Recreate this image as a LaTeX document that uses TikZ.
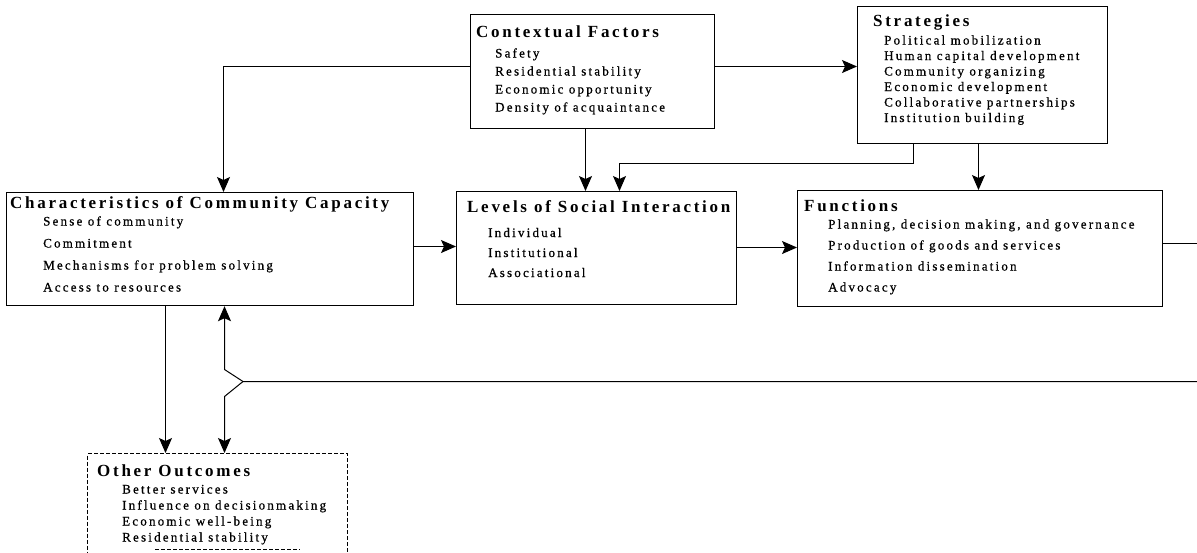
\documentclass[tikz,border=0pt]{standalone}
\usepackage{fontspec}
\setmainfont{Liberation Serif}
\newfontfamily\hfont[LetterSpace=16]{Liberation Serif}
\newfontfamily\ifont[LetterSpace=17, FakeBold=0.7]{Liberation Serif}
\usetikzlibrary{arrows.meta,calc}
\tikzset{
  box/.style={draw, line width=1.2pt, inner sep=0pt, anchor=north west},
  dbox/.style={box, dash pattern=on 4pt off 2pt},
  head/.style={anchor=base west, inner sep=0pt, font=\hfont\bfseries\fontsize{17}{20}\selectfont},
  items/.style={anchor=base west, inner sep=0pt, align=left},
  conn/.style={line width=1pt},
  arr/.style={conn, -{Stealth[length=15pt,width=13pt,inset=3pt]}},
}
\begin{document}
\begin{tikzpicture}[x=1pt,y=-1pt]
\useasboundingbox (0,0) rectangle (1197,552);
\clip (0,0) rectangle (1197,552);
% boxes
\node[box, minimum width=244pt, minimum height=114pt] (ctx) at (470,14) {};
\node[box, minimum width=250pt, minimum height=137pt] (str) at (857,6) {};
\node[box, minimum width=407pt, minimum height=113pt] (cha) at (6,192) {};
\node[box, minimum width=280pt, minimum height=113pt] (lev) at (456,191) {};
\node[box, minimum width=365pt, minimum height=116pt] (fun) at (797,190) {};
\node[dbox, minimum width=260pt, minimum height=120pt] (oth) at (87,453) {};
% headings
\node[head] (ctxh) at (476,37) {Contextual Factors};
\node[head] (strh) at (873,26) {Strategies};
\node[head] (chah) at (10,208) {Characteristics of Community Capacity};
\node[head] (levh) at (467,212) {Levels of Social Interaction};
\node[head] (funh) at (804,211) {Functions};
\node[head] (othh) at (97,476) {Other Outcomes};
% items (anchored at the baseline of their last line)
\node[items, font=\ifont\fontsize{13}{18}\selectfont] (ctxi) at (495,111.5)
  {Safety\\Residential stability\\Economic opportunity\\Density of acquaintance};
\node[items, font=\ifont\fontsize{13}{15.5}\selectfont] (stri) at (884,122)
  {Political mobilization\\Human capital development\\Community organizing\\Economic development\\Collaborative partnerships\\Institution building};
\node[items, font=\ifont\fontsize{13}{22}\selectfont] (chai) at (43,291.5)
  {Sense of community\\Commitment\\Mechanisms for problem solving\\Access to resources};
\node[items, font=\ifont\fontsize{13}{20}\selectfont] (levi) at (488,277)
  {Individual\\Institutional\\Associational};
\node[items, font=\ifont\fontsize{13}{21}\selectfont] (funi) at (828,291.5)
  {Planning, decision making, and governance\\Production of goods and services\\Information dissemination\\Advocacy};
\node[items, font=\ifont\fontsize{13}{16}\selectfont] (othi) at (122,541.5)
  {Better services\\Influence on decisionmaking\\Economic well-being\\Residential stability};
% free ends
\coordinate (rE1) at (1197,243.5);
\coordinate (rE2) at (1197,381.5);
\coordinate (kink) at (243,381.5);
% connectors
\draw[arr] ($(ctx.north west)+(0,52.5)$) -| ($(cha.north west)+(217.5,0)$);
\draw[arr] ($(ctx.north east)+(0,52.5)$) -- ($(str.north west)+(0,60.5)$);
\draw[arr] ($(ctx.south west)+(115.5,0)$) -- ($(lev.north west)+(129.5,0)$);
\draw[arr] ($(str.south west)+(56.5,0)$) -- ++(0,19) -| ($(lev.north west)+(163.5,0)$);
\draw[arr] ($(str.south west)+(121.5,0)$) -- ($(fun.north west)+(181.5,0)$);
\draw[arr] ($(cha.north east)+(0,54.5)$) -- ($(lev.north west)+(0,55.5)$);
\draw[arr] ($(lev.north east)+(0,56.5)$) -- ($(fun.north west)+(0,57.5)$);
\draw[conn] ($(fun.north east)+(0,53.5)$) -- (rE1);
\draw[arr] (rE2) -- (kink) -- ++(-18.5,-12) -- ($(cha.south west)+(218.5,0)$);
\draw[arr] (kink) -- ++(-18.5,15) -- ($(oth.north west)+(137.5,0)$);
\draw[arr] ($(cha.south west)+(159.5,0)$) -- ($(oth.north west)+(78.5,0)$);
\draw[line width=1pt, dash pattern=on 4pt off 2pt] (155,549.5) -- (300,549.5);
\end{tikzpicture}
\end{document}
